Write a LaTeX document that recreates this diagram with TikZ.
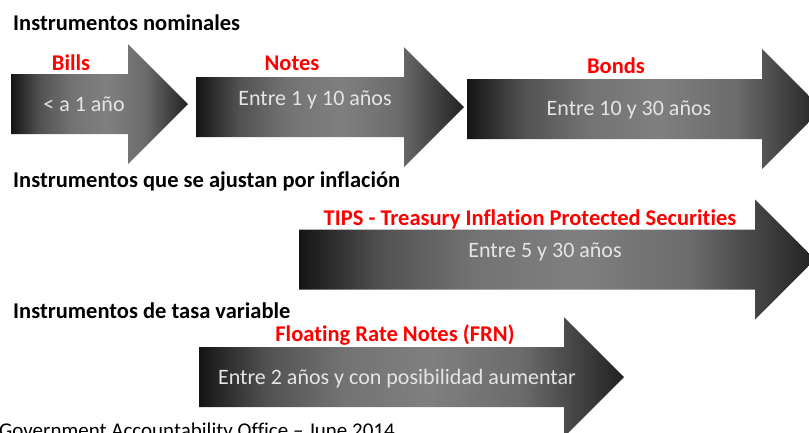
\documentclass[tikz,border=0pt]{standalone}
\usepackage{fontspec}
\setmainfont{Carlito}[Ligatures=NoCommon]
\usepackage{tikz}
\usetikzlibrary{positioning}

% dark at both ends, grey in the middle
\pgfdeclarehorizontalshading{sombraflecha}{100bp}{%
  color(0bp)=(black!92); color(25bp)=(black!92); color(33bp)=(black!68);
  color(42bp)=(black!55); color(52bp)=(black!50); color(63bp)=(black!58);
  color(75bp)=(black!87); color(100bp)=(black!87)}

% arrow: left x, head start x, centre y
\newcommand{\flecha}[3]{%
  \shade[arrowshade] (#1,#3-30) -- (#2,#3-30) -- (#2,#3-60) -- (#2+60,#3)
    -- (#2,#3+60) -- (#2,#3+30) -- (#1,#3+30) -- cycle;}

\begin{document}
\begin{tikzpicture}[
      x=1pt, y=-1pt,
      font=\fontsize{22}{26}\selectfont,
      arrowshade/.style={shading=sombraflecha, shading angle=0},
      titulo/.style={anchor=west, font=\fontsize{22.5}{26}\selectfont\bfseries, inner sep=0pt},
      tipo/.style={text=red, font=\fontsize{22.5}{26}\selectfont\bfseries, inner sep=0pt},
      plazo/.style={text=white!90!black, inner sep=0pt}
    ]
    \useasboundingbox (0,0) rectangle (809,432);
    \clip (0,0) rectangle (809,432);

    % Instrumentos nominales
    \node (nom) [titulo] at (13,23) {Instrumentos nominales};
    \flecha{11}{128}{104}
    \flecha{196}{404}{107}
    \flecha{467}{762}{109}
    \node (bills) [tipo]  at (71,63)   {Bills};
    \node (notes) [tipo]  at (292,63)  {Notes};
    \node (bonds) [tipo]  at (616,66)  {Bonds};
    \node (pbills) [plazo] at (84,104)  {< a 1 año};
    \node (pnotes) [plazo] at (315,100) {Entre 1 y 10 años};
    \node (pbonds) [plazo] at (629,110) {Entre 10 y 30 años};

    % Instrumentos ajustados por inflacion
    \node (infl) [titulo] at (13,182) {Instrumentos que se ajustan por inflación};
    \flecha{299}{755}{259.5}
    \node (tips)  [tipo]  at (530,219) {TIPS - Treasury Inflation Protected Securities};
    \node (ptips) [plazo] at (545,252) {Entre 5 y 30 años};

    % Instrumentos de tasa variable
    \node (var) [titulo] at (13,311) {Instrumentos de tasa variable};
    \flecha{199}{564}{377}
    \node (frn)  [tipo]  at (395,335) {Floating Rate Notes (FRN)};
    \node (pfrn) [plazo] at (397,379) {Entre 2 años y con posibilidad aumentar};

    % Fuente
    \node (fuente) [anchor=base west, inner sep=0pt, font=\fontsize{21}{25}\selectfont]
      at (-1,437) {Government Accountability Office – June 2014};
  \end{tikzpicture}
\end{document}
